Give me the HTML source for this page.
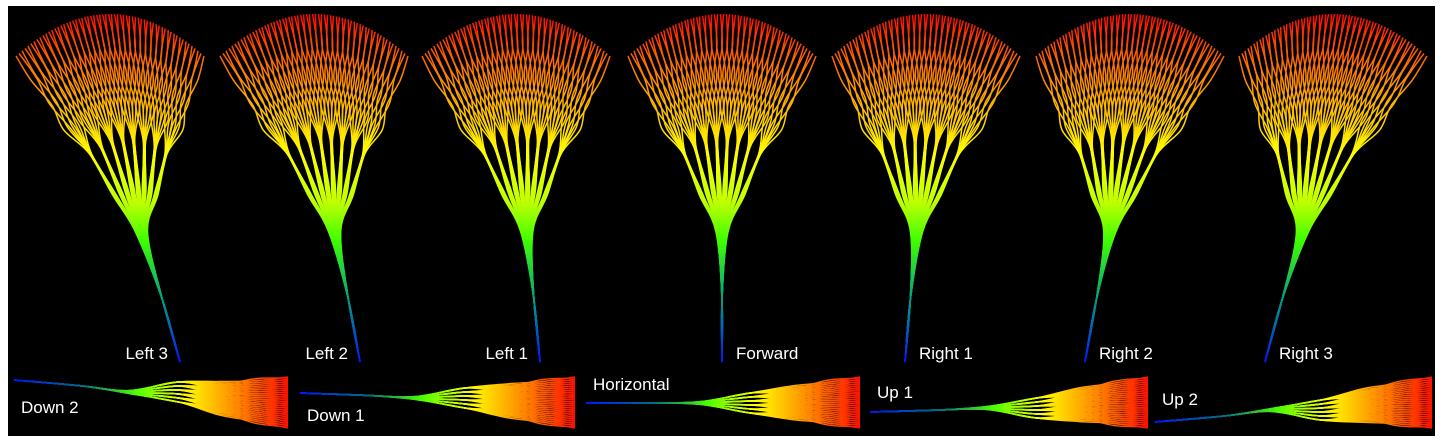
<!DOCTYPE html>
<html><head><meta charset="utf-8"><style>
html,body{margin:0;padding:0;background:#fff;}
#wrap{position:relative;width:1443px;height:443px;background:#fff;overflow:hidden;}
svg{position:absolute;left:0;top:0;}
</style></head><body>
<div id="wrap">
<svg id="svg" width="1443" height="443">
<defs>
<linearGradient id="gv" gradientUnits="userSpaceOnUse" x1="0" y1="362" x2="0" y2="14">
<stop offset="0" stop-color="#0018ff"/><stop offset="0.18" stop-color="#00a080"/>
<stop offset="0.35" stop-color="#40ff00"/><stop offset="0.46" stop-color="#c0ff00"/>
<stop offset="0.6" stop-color="#ffff00"/><stop offset="0.75" stop-color="#ffb000"/>
<stop offset="0.88" stop-color="#ff6000"/><stop offset="1" stop-color="#ff0800"/>
</linearGradient>
</defs>
<rect x="8" y="6" width="1427" height="430" fill="#000"/>
</svg>
</div>
<script>
const fanLabels=["Left 3","Left 2","Left 1","Forward","Right 1","Right 2","Right 3"];
const fanCenters=[110,314,516,722,926,1130,1333];
const fanBases=[180,360,540,722,905,1085,1265];
const panelLabels=["Down 2","Down 1","Horizontal","Up 1","Up 2"];
const panelStartX=[14,300,586,870,1155];
const panelEndX=[288,575,860,1148,1432];
const panelStemY=[380,393,403,412,422];
const panelNeckY=[392,398,403,408,410];
const svg=document.getElementById('svg');
const NS='http://www.w3.org/2000/svg';
function cr(pts){let d='M'+pts[0][0]+','+pts[0][1];for(let i=0;i<pts.length-1;i++){const p0=pts[Math.max(i-1,0)],p1=pts[i],p2=pts[i+1],p3=pts[Math.min(i+2,pts.length-1)];
d+=' C'+(p1[0]+(p2[0]-p0[0])/6).toFixed(1)+','+(p1[1]+(p2[1]-p0[1])/6).toFixed(1)+' '+(p2[0]-(p3[0]-p1[0])/6).toFixed(1)+','+(p2[1]-(p3[1]-p1[1])/6).toFixed(1)+' '+p2[0].toFixed(1)+','+p2[1].toFixed(1);}return d;}
const N=64;
fanLabels.forEach((lab,f)=>{
 const cx=fanCenters[f],bx=fanBases[f],off=bx-cx;
 const g=document.createElementNS(NS,'g');
 
 
 const nx0=bx-off*0.55, ny=232;
 for(let i=0;i<N;i++){const t=i/(N-1),k=Math.min(7,Math.floor(t*8));
  const tc=(k+0.5)/8;
  const tipx=cx+(t-0.5)*188,tipy=14+42*Math.pow(2*(t-0.5),2);
  const bcx=cx+(tc-0.5)*188,bcy=14+42*Math.pow(2*(tc-0.5),2);
  const nx=nx0+(t-0.5)*12;
  const P=(tx,ty,s,w)=>[nx+(tx-nx)*s+w,ny+(ty-ny)*s];
  const wv=((i%2)?1:-1)*2.5;
  const loc=(t*8-k-0.5)*3;
  const pts=[[bx,362],[bx-off*0.25,300],[nx,ny],P(bcx,bcy,0.2,loc),P(bcx,bcy,0.42,loc*0.5),P(tipx,tipy,0.58,wv),P(tipx,tipy,0.72,-wv),P(tipx,tipy,0.86,wv*0.6),[tipx,tipy]];
  const p=document.createElementNS(NS,'path');
  p.setAttribute('d',cr(pts));p.setAttribute('fill','none');p.setAttribute('stroke','url(#gv)');p.setAttribute('stroke-width','1.5');
  
  
  g.appendChild(p);}
 svg.appendChild(g);
 const tx=document.createElementNS(NS,'text');
 const right=f>=3;
 tx.setAttribute('x',right?bx+14:bx-12);tx.setAttribute('y',359);
 tx.setAttribute('text-anchor',right?'start':'end');
 tx.setAttribute('fill','#fff');tx.setAttribute('font-size','17');tx.setAttribute('font-family','Liberation Sans, Arial, sans-serif');
 tx.textContent=lab;
 
 
 svg.appendChild(tx);
});
panelLabels.forEach((lab,q)=>{
 const x0=panelStartX[q],x1=panelEndX[q],w=x1-x0,sy=panelStemY[q],ny=panelNeckY[q];
 const gid='gh'+q;
 const lg=document.createElementNS(NS,'linearGradient');
 lg.setAttribute('id',gid);lg.setAttribute('gradientUnits','userSpaceOnUse');
 lg.setAttribute('x1',x0);lg.setAttribute('x2',x1);lg.setAttribute('y1',0);lg.setAttribute('y2',0);
 [[0,'#0018ff'],[0.25,'#007080'],[0.45,'#50ff00'],[0.62,'#ffff00'],[0.8,'#ff9000'],[1,'#ff1000']].forEach(s=>{const st=document.createElementNS(NS,'stop');st.setAttribute('offset',s[0]);st.setAttribute('stop-color',s[1]);lg.appendChild(st);});
 svg.querySelector('defs').appendChild(lg);
 const g=document.createElementNS(NS,'g');
 
 
 const M=48;
 for(let i=0;i<M;i++){const t=i/(M-1),k=Math.min(5,Math.floor(t*6));
  const tipy=377+t*51;
  const wv=((i%2)?1:-1)*1.5;
  const pts=[[x0,sy],[x0+w*0.25,(sy+ny)/2],[x0+w*0.42,ny+(t-0.5)*3],[x0+w*0.6,ny+(k-2.5)*4],[x0+w*0.75,ny+(tipy-ny)*0.6+wv],[x0+w*0.88,ny+(tipy-ny)*0.85-wv],[x1,tipy]];
  const p=document.createElementNS(NS,'path');
  p.setAttribute('d',cr(pts));p.setAttribute('fill','none');p.setAttribute('stroke','url(#'+gid+')');p.setAttribute('stroke-width','1.4');
  
  
  g.appendChild(p);}
 svg.appendChild(g);
 const tx=document.createElementNS(NS,'text');
 const above=q>=2;
 tx.setAttribute('x',x0+7);tx.setAttribute('y',above?(q==2?390:(q==3?398:405)):(q==0?413:421));
 tx.setAttribute('fill','#fff');tx.setAttribute('font-size','17');tx.setAttribute('font-family','Liberation Sans, Arial, sans-serif');
 tx.textContent=lab;
 
 
 svg.appendChild(tx);
});
</script>
</body></html>
